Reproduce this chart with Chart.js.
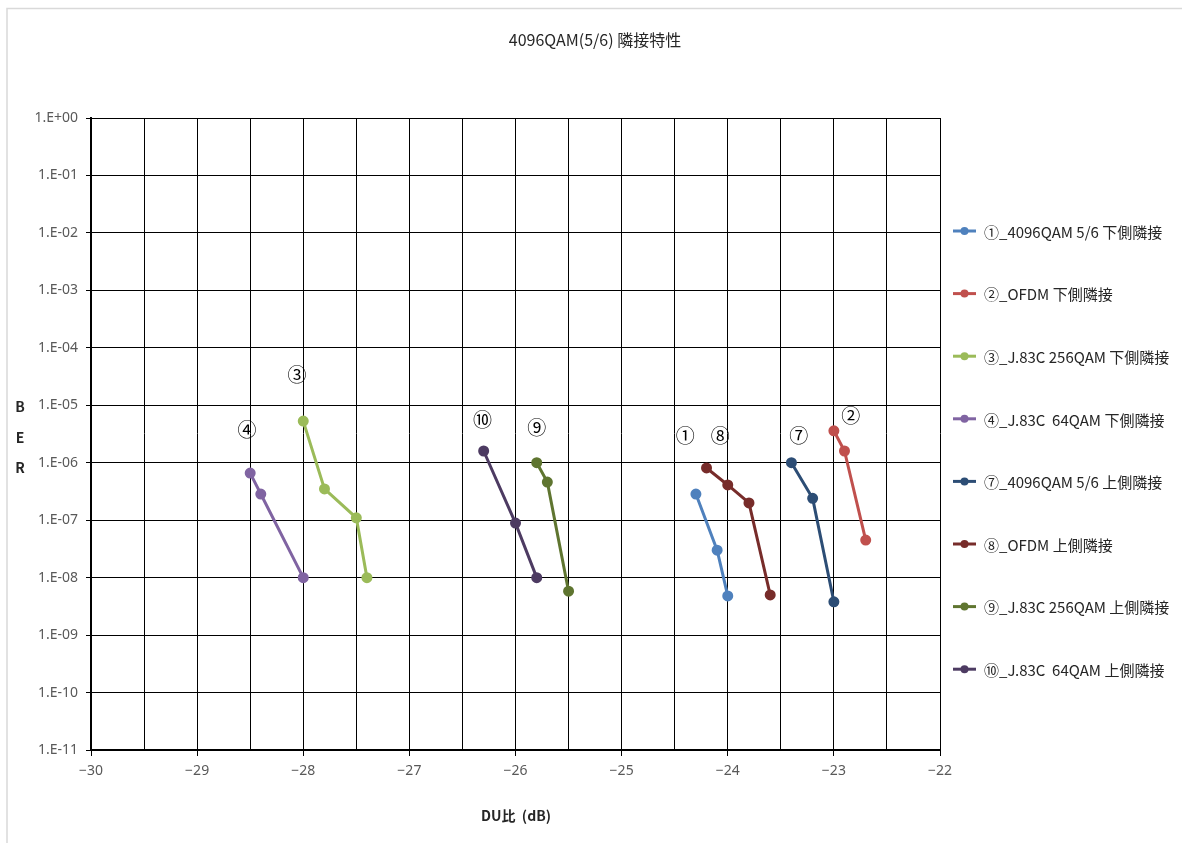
<!DOCTYPE html>
<html><head><meta charset="utf-8">
<script src="https://cdn.jsdelivr.net/npm/chart.js@4.4.1/dist/chart.umd.min.js"></script>
<style>html,body{margin:0;padding:0;background:#fff}#wrap{width:1182px;height:843px;position:relative}</style>
</head><body><div id="wrap"><canvas id="c"></canvas></div>
<script>
const chartTitle = '4096QAM(5/6) 隣接特性';
const xAxisTitle = 'DU比  (dB)';
const yAxisTitle = ['B', 'E', 'R'];

const seriesNames = [
  '①_4096QAM 5/6 下側隣接',
  '②_OFDM 下側隣接',
  '③_J.83C 256QAM 下側隣接',
  '④_J.83C  64QAM 下側隣接',
  '⑦_4096QAM 5/6 上側隣接',
  '⑧_OFDM 上側隣接',
  '⑨_J.83C 256QAM 上側隣接',
  '⑩_J.83C  64QAM 上側隣接'
];
const seriesColors = ['#4F81BD', '#C0504D', '#9BBB59', '#8064A2', '#2C4D75', '#772C2A', '#5F7530', '#4D3B62'];

const s1X = [-24.3, -24.1, -24.0];           const s1Y = [2.85e-7, 3.0e-8, 4.8e-9];
const s2X = [-23.0, -22.9, -22.7];           const s2Y = [3.6e-6, 1.6e-6, 4.5e-8];
const s3X = [-28.0, -27.8, -27.5, -27.4];    const s3Y = [5.3e-6, 3.5e-7, 1.1e-7, 1.0e-8];
const s4X = [-28.5, -28.4, -28.0];           const s4Y = [6.6e-7, 2.85e-7, 1.0e-8];
const s7X = [-23.4, -23.2, -23.0];           const s7Y = [1.0e-6, 2.4e-7, 3.8e-9];
const s8X = [-24.2, -24.0, -23.8, -23.6];    const s8Y = [8.1e-7, 4.1e-7, 2.0e-7, 5.0e-9];
const s9X = [-25.8, -25.7, -25.5];           const s9Y = [1.0e-6, 4.6e-7, 5.8e-9];
const s10X = [-26.3, -26.0, -25.8];          const s10Y = [1.6e-6, 8.9e-8, 1.0e-8];

const seriesX = [s1X, s2X, s3X, s4X, s7X, s8X, s9X, s10X];
const seriesY = [s1Y, s2Y, s3Y, s4Y, s7Y, s8Y, s9Y, s10Y];

const annLabels = ['③', '④', '⑩', '⑨', '①', '⑧', '⑦', '②'];
const annX = [-28.06, -28.53, -26.31, -25.80, -24.40, -24.07, -23.33, -22.84];
const annY = [3.4e-5, 3.7e-6, 5.5e-6, 4.0e-6, 3.0e-6, 3.0e-6, 2.9e-6, 6.5e-6];

const xTickValues = [-30, -29, -28, -27, -26, -25, -24, -23, -22];
const xTickLabels = ['−30', '−29', '−28', '−27', '−26', '−25', '−24', '−23', '−22'];
const yTickValues = [1, 1e-1, 1e-2, 1e-3, 1e-4, 1e-5, 1e-6, 1e-7, 1e-8, 1e-9, 1e-10, 1e-11];
const yTickLabels = ['1.E+00', '1.E-01', '1.E-02', '1.E-03', '1.E-04', '1.E-05', '1.E-06', '1.E-07', '1.E-08', '1.E-09', '1.E-10', '1.E-11'];

const datasets = seriesNames.map((name, i) => ({
  label: name,
  data: seriesX[i].map((x, j) => ({x: x, y: seriesY[i][j]})),
  borderColor: seriesColors[i],
  backgroundColor: seriesColors[i],
  pointBackgroundColor: seriesColors[i],
  pointBorderColor: seriesColors[i],
  borderWidth: 3,
  pointRadius: 4,
  pointHoverRadius: 4,
  tension: 0
}));

const decorPlugin = {
  id: 'decor',
  beforeDraw(chart) {
    const ctx = chart.ctx;
    ctx.save();
    ctx.strokeStyle = '#d9d9d9';
    ctx.lineWidth = 1.5;
    ctx.beginPath();
    ctx.moveTo(7, 843); ctx.lineTo(7, 8.5); ctx.lineTo(1182, 8.5);
    ctx.stroke();
    ctx.restore();
  },
  afterDraw(chart) {
    const ctx = chart.ctx;
    const xs = chart.scales.x, ys = chart.scales.y;
    ctx.save();
    ctx.fillStyle = '#262626';
    ctx.font = '16px "Noto Sans CJK JP"';
    ctx.textAlign = 'center';
    ctx.textBaseline = 'middle';
    ctx.fillText(chartTitle, 595, 40);
    ctx.font = 'bold 14px "Noto Sans CJK JP"';
    yAxisTitle.forEach((ch, i) => ctx.fillText(ch, 20, 407 + i * 30.5));
    ctx.font = 'bold 14px "Noto Sans CJK JP"';
    ctx.fillText(xAxisTitle, 516, 816);
    ctx.font = '19px "Noto Sans CJK JP"';
    ctx.fillStyle = '#000';
    annLabels.forEach((t, i) => {
      ctx.fillText(t, xs.getPixelForValue(annX[i]), ys.getPixelForValue(annY[i]));
    });
    ctx.textAlign = 'left';
    ctx.font = '15px "Noto Sans CJK JP"';
    chart.data.datasets.forEach((ds, i) => {
      const y = 231 + i * 62.6;
      ctx.strokeStyle = ds.borderColor;
      ctx.lineWidth = 3;
      ctx.beginPath(); ctx.moveTo(953, y); ctx.lineTo(976, y); ctx.stroke();
      ctx.fillStyle = ds.borderColor;
      ctx.beginPath(); ctx.arc(964.5, y, 4, 0, Math.PI * 2); ctx.fill();
      ctx.fillStyle = '#262626';
      ctx.fillText(ds.label, 984, y + 1);
    });
    ctx.restore();
  }
};

new Chart(document.getElementById('c'), {
  type: 'line',
  data: {datasets: datasets},
  plugins: [decorPlugin],
  options: {
    responsive: true,
    maintainAspectRatio: false,
    animation: false,
    events: [],
    layout: {padding: {left: 0, top: 118, right: 242, bottom: 0}},
    plugins: {legend: {display: false}, title: {display: false}, tooltip: {enabled: false}},
    scales: {
      x: {
        type: 'linear',
        min: -30, max: -22,
        afterFit(scale) { scale.height = 93; },
        afterBuildTicks(scale) {
          const t = [];
          for (let k = 0; k <= 16; k++) t.push({value: -30 + k * 0.5});
          scale.ticks = t;
        },
        ticks: {
          autoSkip: false,
          maxRotation: 0,
          padding: 7,
          color: '#595959',
          font: {family: '"Noto Sans"', size: 14},
          callback(v) { const k = xTickValues.indexOf(v); return k >= 0 ? xTickLabels[k] : ''; }
        },
        grid: {
          color: '#000',
          lineWidth: 1,
          tickLength: 6,
          tickColor: (c) => (c.tick && Number.isInteger(c.tick.value)) ? '#000' : 'rgba(0,0,0,0)'
        },
        border: {color: '#000', width: 2}
      },
      y: {
        type: 'logarithmic',
        min: 1e-11, max: 1,
        afterFit(scale) { scale.width = 91; },
        afterBuildTicks(scale) { scale.ticks = yTickValues.map(v => ({value: v})); },
        ticks: {
          autoSkip: false,
          padding: 8,
          color: '#595959',
          font: {family: '"Noto Sans"', size: 14},
          callback(v) {
            const k = yTickValues.findIndex(t => Math.abs(Math.log10(t) - Math.log10(v)) < 1e-6);
            return k >= 0 ? yTickLabels[k] : '';
          }
        },
        grid: {color: '#000', lineWidth: 1, tickLength: 5, tickColor: '#000'},
        border: {color: '#000', width: 2}
      }
    }
  }
});
</script>
</body></html>
